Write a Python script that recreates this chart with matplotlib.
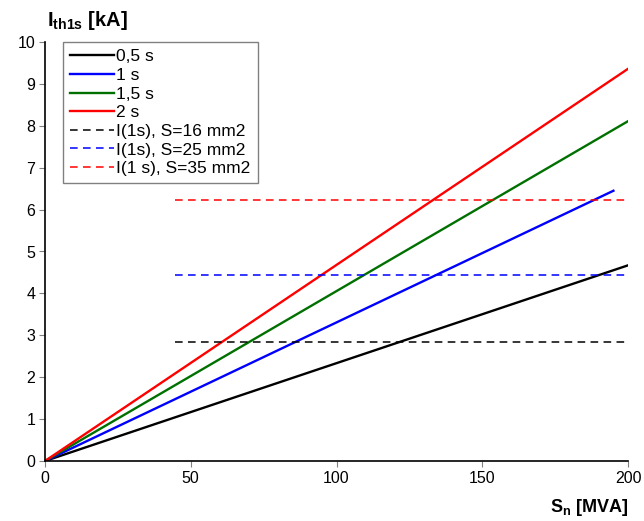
import matplotlib
matplotlib.use("Agg")
import matplotlib.pyplot as plt

plt.rcParams['font.family'] = ['Liberation Sans', 'DejaVu Sans']
plt.rcParams['mathtext.fontset'] = 'custom'
plt.rcParams['mathtext.bf'] = 'Liberation Sans:bold'
plt.rcParams['mathtext.rm'] = 'Liberation Sans'

# data
s_line = [0, 200]
s_line_1s = [0, 195]
i_05 = [0, 4.67]
i_1 = [0, 6.45]
i_15 = [0, 8.11]
i_2 = [0, 9.36]
s_dash = [44.6, 200]
i_16 = 2.85
i_25 = 4.45
i_35 = 6.23

labels = ['0,5 s', '1 s', '1,5 s', '2 s',
          'I(1s), S=16 mm2', 'I(1s), S=25 mm2', 'I(1 s), S=35 mm2']

fig = plt.figure(figsize=(6.44, 5.21), dpi=100)
ax = fig.add_axes([45/644, 1-461/521, 583/644, 419/521])

ax.plot(s_line, i_05, color='black', lw=1.7, label=labels[0])
ax.plot(s_line_1s, i_1, color='#0000ff', lw=1.7, label=labels[1])
ax.plot(s_line, i_15, color='#007000', lw=1.7, label=labels[2])
ax.plot(s_line, i_2, color='#ff0000', lw=1.7, label=labels[3])
ax.plot(s_dash, [i_16, i_16], color='black', lw=1.1, ls=(0, (5, 3.5)), label=labels[4])
ax.plot(s_dash, [i_25, i_25], color='#0000ff', lw=1.1, ls=(0, (5, 3.5)), label=labels[5])
ax.plot(s_dash, [i_35, i_35], color='#ff0000', lw=1.1, ls=(0, (5, 3.5)), label=labels[6])

ax.set_xlim(0, 200)
ax.set_ylim(0, 10)
ax.set_xticks([0, 50, 100, 150, 200])
ax.set_yticks(range(0, 11))
for sp in ['top', 'right']:
    ax.spines[sp].set_visible(False)
for sp in ['left', 'bottom']:
    ax.spines[sp].set_linewidth(1.2)
ax.tick_params(direction='out', length=4, width=0.8, color='#808080',
               labelsize=11.5, labelcolor='black', pad=3)

leg = ax.legend(loc='upper left', bbox_to_anchor=(18/583, 1.0), borderaxespad=0,
                fancybox=False, edgecolor='#808080', framealpha=1,
                fontsize=12.5, handlelength=2.5, handletextpad=0.15,
                labelspacing=0.2, borderpad=0.42)
leg.get_frame().set_linewidth(1.0)

fig.text(47/644, 1-20/521, r'$\mathbf{I_{th1s}}$ [kA]', fontsize=14.5,
         fontweight='bold', ha='left', va='center')
fig.text(628/644, 1-507/521, r'$\mathbf{S_{n}}$ [MVA]', fontsize=13,
         fontweight='bold', ha='right', va='center')

fig.savefig('out.png', dpi=100)
